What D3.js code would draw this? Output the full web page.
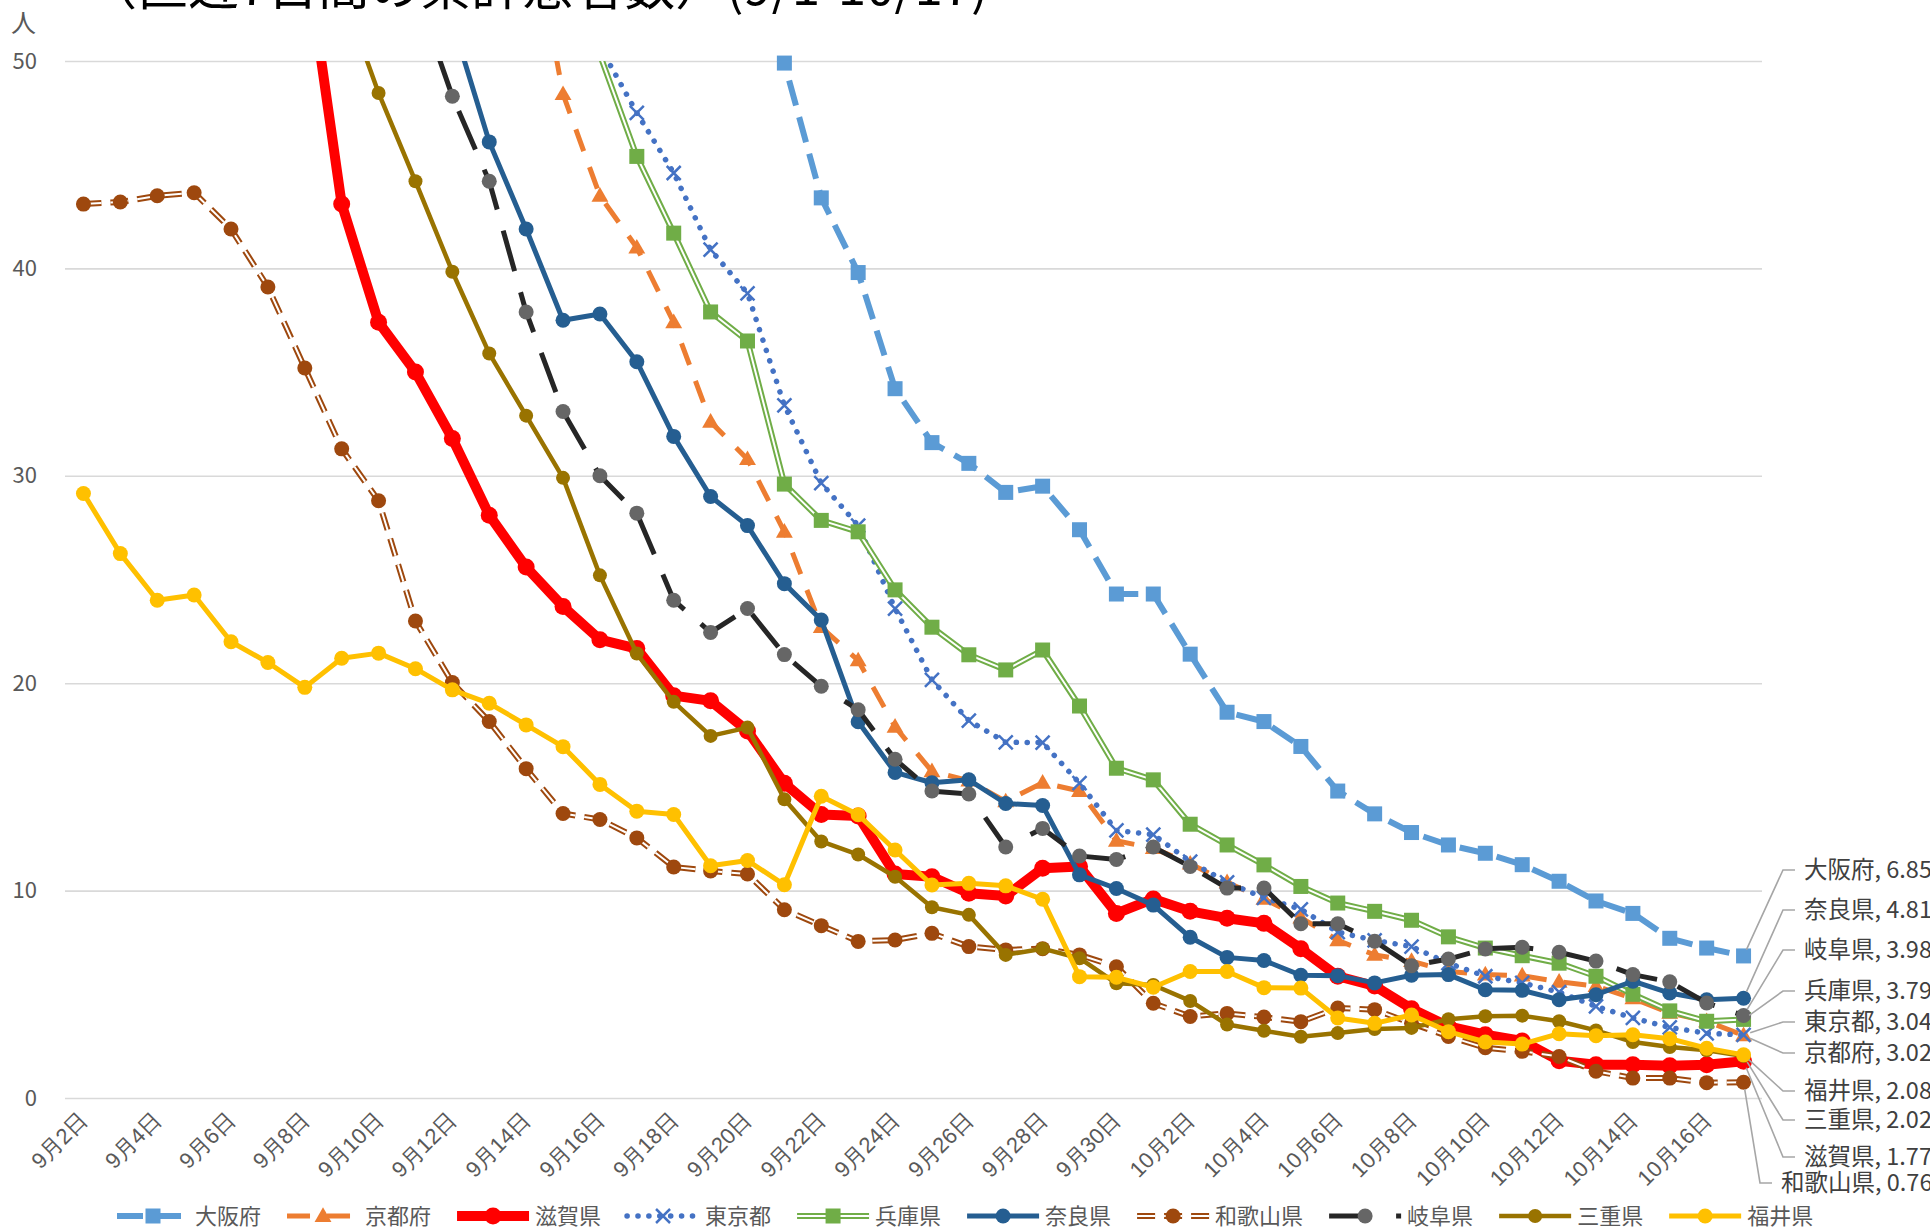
<!doctype html>
<html lang="ja">
<head>
<meta charset="utf-8">
<title>直近7日間の累計患者数</title>
<style>
html, body {
	margin: 0;
	padding: 0;
	background: #fff;
}
svg {
	display: block;
	font-family: "Noto Sans CJK JP", "Noto Sans", sans-serif;
}
</style>
</head>
<body>
<div id="chart"></div>
<script src="https://cdnjs.cloudflare.com/ajax/libs/d3/7.8.5/d3.min.js"></script>
<script>
/* DATA */

var dates = [
	'9月2日', '9月3日', '9月4日', '9月5日', '9月6日', '9月7日', '9月8日', '9月9日', '9月10日', '9月11日',
	'9月12日', '9月13日', '9月14日', '9月15日', '9月16日', '9月17日', '9月18日', '9月19日', '9月20日', '9月21日',
	'9月22日', '9月23日', '9月24日', '9月25日', '9月26日', '9月27日', '9月28日', '9月29日', '9月30日', '10月1日',
	'10月2日', '10月3日', '10月4日', '10月5日', '10月6日', '10月7日', '10月8日', '10月9日', '10月10日', '10月11日',
	'10月12日', '10月13日', '10月14日', '10月15日', '10月16日', '10月17日'
];

var yTicks = [0, 10, 20, 30, 40, 50];

var osaka = [null, null, null, null, null, null, null, null, null, null,
	null, null, null, null, null, null, null, null, 58, 49.9,
	43.4, 39.8, 34.2, 31.6, 30.6, 29.2, 29.5, 27.4, 24.3, 24.3,
	21.4, 18.6, 18.15, 16.95, 14.8, 13.7, 12.8, 12.2, 11.8, 11.25,
	10.45, 9.5, 8.9, 7.7, 7.23, 6.85];

var kyoto = [null, null, null, null, null, null, null, null, null, null,
	null, null, 58, 48.4, 43.5, 41.0, 37.4, 32.6, 30.8, 27.3,
	22.7, 21.1, 17.9, 15.75, 15.3, 14.3, 15.2, 14.8, 12.4, 12.05,
	11.3, 10.4, 9.6, 8.7, 7.6, 6.9, 6.6, 6.1, 5.95, 5.9,
	5.6, 5.4, 4.8, 4.1, 3.7, 3.02];

var shiga = [null, null, null, null, null, null, 55.6, 43.1, 37.4, 35.0,
	31.8, 28.1, 25.6, 23.7, 22.1, 21.67, 19.4, 19.15, 17.7, 15.17,
	13.67, 13.6, 10.8, 10.67, 9.87, 9.74, 11.08, 11.16, 8.9, 9.6,
	9.0, 8.67, 8.42, 7.2, 5.87, 5.4, 4.3, 3.45, 3.05, 2.75,
	1.8, 1.6, 1.6, 1.55, 1.6, 1.77];

var tokyo = [null, null, null, null, null, null, null, null, null, null,
	null, null, null, null, 50.7, 47.5, 44.6, 40.9, 38.8, 33.4,
	29.65, 27.6, 23.6, 20.16, 18.2, 17.15, 17.14, 15.18, 12.9, 12.7,
	11.4, 10.4, 9.65, 9.1, 8.0, 7.6, 7.3, 6.5, 5.87, 5.55,
	5.1, 4.42, 3.86, 3.4, 3.12, 3.04];

var hyogo = [null, null, null, null, null, null, null, null, null, null,
	null, null, null, 56, 50.3, 45.4, 41.7, 37.9, 36.5, 29.6,
	27.85, 27.3, 24.5, 22.7, 21.37, 20.64, 21.6, 18.9, 15.9, 15.34,
	13.2, 12.2, 11.24, 10.2, 9.4, 9.0, 8.57, 7.77, 7.23, 6.86,
	6.5, 5.87, 5.0, 4.2, 3.7, 3.79];

var nara = [null, null, null, null, null, null, null, null, null, null,
	51.9, 46.1, 41.9, 37.5, 37.8, 35.5, 31.9, 29.0, 27.6, 24.8,
	23.05, 18.14, 15.7, 15.2, 15.34, 14.2, 14.1, 10.76, 10.1, 9.3,
	7.75, 6.78, 6.63, 5.92, 5.9, 5.55, 5.92, 5.95, 5.22, 5.19,
	4.74, 4.98, 5.63, 5.06, 4.74, 4.81];

var wakayama = [43.1, 43.2, 43.5, 43.65, 41.9, 39.1, 35.2, 31.3, 28.8, 23.0,
	20.03, 18.15, 15.88, 13.72, 13.43, 12.54, 11.14, 10.95, 10.8, 9.08,
	8.31, 7.55, 7.62, 7.94, 7.3, 7.14, 7.2, 6.9, 6.33, 4.57,
	3.93, 4.08, 3.9, 3.68, 4.34, 4.26, 3.6, 2.97, 2.42, 2.25,
	2.0, 1.29, 0.96, 0.96, 0.74, 0.76];

var gifu = [null, null, null, null, null, null, null, null, null, 53.4,
	48.3, 44.2, 37.9, 33.1, 30.0, 28.2, 24.0, 22.45, 23.6, 21.38,
	19.85, 18.72, 16.33, 14.8, 14.66, 12.1, 13.0, 11.67, 11.5, 12.1,
	11.16, 10.12, 10.12, 8.4, 8.4, 7.56, 6.38, 6.7, 7.19, 7.27,
	7.03, 6.6, 5.95, 5.6, 4.58, 3.98];

var mie = [null, null, null, null, null, null, null, 53.4, 48.46, 44.2,
	39.84, 35.9, 32.9, 29.9, 25.2, 21.43, 19.1, 17.46, 17.86, 14.4,
	12.37, 11.74, 10.67, 9.2, 8.83, 6.9, 7.2, 6.74, 5.53, 5.45,
	4.68, 3.54, 3.24, 2.95, 3.13, 3.33, 3.38, 3.8, 3.94, 3.97,
	3.7, 3.26, 2.7, 2.46, 2.3, 2.02];

var fukui = [29.15, 26.25, 24.0, 24.25, 22.0, 21.0, 19.8, 21.2, 21.45, 20.7,
	19.68, 19.03, 17.99, 16.94, 15.12, 13.83, 13.67, 11.2, 11.45, 10.28,
	14.55, 13.66, 11.96, 10.27, 10.35, 10.23, 9.58, 5.85, 5.82, 5.34,
	6.1, 6.1, 5.32, 5.3, 3.86, 3.6, 4.0, 3.2, 2.7, 2.6,
	3.1, 3.0, 3.05, 2.86, 2.4, 2.08];

var seriesNames = ['大阪府', '京都府', '滋賀県', '東京都', '兵庫県', '奈良県', '和歌山県', '岐阜県', '三重県', '福井県'];
var seriesValues = [osaka, kyoto, shiga, tokyo, hyogo, nara, wakayama, gifu, mie, fukui];

// order of the end labels, top to bottom
var labelOrder = ['大阪府', '奈良県', '岐阜県', '兵庫県', '東京都', '京都府', '福井県', '三重県', '滋賀県', '和歌山県'];

/* STYLE */

var W = 1930, H = 1230;
var plot = { left: 65, right: 1762, top: 61, bottom: 1098 };

var styles = {
	'大阪府': { color: '#5B9BD5', width: 6, dash: '26,12', marker: 'square', size: 15 },
	'京都府': { color: '#ED7D31', width: 5, dash: '23,17', marker: 'triangle', size: 15 },
	'滋賀県': { color: '#FF0000', width: 10, marker: 'circle', size: 17 },
	'東京都': { color: '#4472C4', width: 5.5, dash: '0.1,10.8', cap: 'round', marker: 'x', size: 14 },
	'兵庫県': { color: '#70AD47', width: 6, inner: 2, marker: 'square', size: 15 },
	'奈良県': { color: '#255E91', width: 5, marker: 'circle', size: 15 },
	'和歌山県': { color: '#9E480E', width: 6, inner: 2, dash: '18,9', marker: 'circle', size: 15 },
	'岐阜県': { color: '#262626', width: 5, dash: '42,22', marker: 'circle', markerColor: '#666666', size: 15 },
	'三重県': { color: '#997300', width: 4.5, marker: 'circle', size: 14 },
	'福井県': { color: '#FFC000', width: 5, marker: 'circle', size: 15 }
};

var labelY = [870, 910, 950, 991, 1022, 1053, 1091, 1120, 1157, 1183];

/* CHART */

var svg = d3.select('#chart').append('svg')
	.attr('width', W)
	.attr('height', H);

svg.append('rect').attr('width', W).attr('height', H).attr('fill', '#fff');

svg.append('clipPath').attr('id', 'plotclip')
	.append('rect')
	.attr('x', plot.left - 20)
	.attr('y', plot.top)
	.attr('width', plot.right - plot.left + 40)
	.attr('height', plot.bottom - plot.top + 30);

var x = d3.scaleBand()
	.domain(d3.range(dates.length))
	.range([plot.left, plot.right]);
var cx = function (i) { return x(i) + x.bandwidth() / 2; };

var y = d3.scaleLinear().domain([0, 50]).range([plot.bottom, plot.top]);

// title (mostly above the top edge, as in the original)
svg.append('text')
	.attr('x', 86)
	.attr('y', 5)
	.attr('font-size', 51)
	.attr('fill', '#000')
	.text('（直近7日間の累計患者数）(9/1-10/17)');

svg.append('text')
	.attr('x', 11)
	.attr('y', 32)
	.attr('font-size', 25)
	.attr('fill', '#595959')
	.text('人');

// y axis + gridlines
var yAxis = svg.append('g')
	.attr('transform', 'translate(' + plot.left + ',0)')
	.call(d3.axisLeft(y).tickValues(yTicks).tickSize(-(plot.right - plot.left)).tickPadding(28));
yAxis.select('.domain').remove();
yAxis.selectAll('line').attr('stroke', '#D9D9D9').attr('stroke-width', 1.6);
yAxis.selectAll('text')
	.attr('font-size', 22)
	.attr('fill', '#595959')
	.attr('font-family', '"Noto Sans CJK JP", sans-serif');

// x axis labels
var xAxis = svg.append('g')
	.attr('transform', 'translate(0,' + plot.bottom + ')')
	.call(d3.axisBottom(x)
		.tickValues(d3.range(0, dates.length, 2))
		.tickFormat(function (i) { return dates[i]; })
		.tickSize(0));
xAxis.select('.domain').remove();
xAxis.selectAll('text')
	.attr('font-size', 22)
	.attr('fill', '#595959')
	.attr('text-anchor', 'end')
	.attr('dy', '0.35em')
	.attr('transform', 'translate(-2,16) rotate(-45)');

/* SERIES */

var lineGen = d3.line()
	.defined(function (d) { return d != null; })
	.x(function (d, i) { return cx(i); })
	.y(function (d) { return y(d); });

var drawMarker = function (g, st, px, py) {
	var s = st.size, fill = st.markerColor || st.color;
	if (st.marker === 'circle') {
		g.append('circle').attr('cx', px).attr('cy', py).attr('r', s / 2).attr('fill', fill);
	} else if (st.marker === 'square') {
		g.append('rect').attr('x', px - s / 2).attr('y', py - s / 2)
			.attr('width', s).attr('height', s).attr('fill', fill);
	} else if (st.marker === 'triangle') {
		g.append('path')
			.attr('d', d3.symbol().type(d3.symbolTriangle).size(s * s * 0.55)())
			.attr('transform', 'translate(' + px + ',' + (py + 1) + ')')
			.attr('fill', fill);
	} else if (st.marker === 'x') {
		var h = s / 2;
		g.append('path')
			.attr('d', 'M' + (px - h) + ',' + (py - h) + 'L' + (px + h) + ',' + (py + h) +
				'M' + (px + h) + ',' + (py - h) + 'L' + (px - h) + ',' + (py + h))
			.attr('stroke', fill).attr('stroke-width', 2.5).attr('fill', 'none');
	}
};

var drawStroke = function (g, st, d) {
	g.append('path')
		.attr('d', d)
		.attr('fill', 'none')
		.attr('stroke', st.color)
		.attr('stroke-width', st.width)
		.attr('stroke-dasharray', st.dash || null)
		.attr('stroke-linecap', st.cap || 'butt')
		.attr('stroke-linejoin', 'round');
	if (st.inner) {
		g.append('path')
			.attr('d', d)
			.attr('fill', 'none')
			.attr('stroke', '#fff')
			.attr('stroke-width', st.inner)
			.attr('stroke-dasharray', st.dash || null)
			.attr('stroke-linejoin', 'round');
	}
};

var series = svg.append('g');

seriesNames.forEach(function (name, k) {
	var st = styles[name];
	var vals = seriesValues[k];
	var g = series.append('g');
	drawStroke(g.append('g').attr('clip-path', 'url(#plotclip)'), st, lineGen(vals));
	vals.forEach(function (v, i) {
		if (v != null && v <= 50) {
			drawMarker(g, st, cx(i), y(v));
		}
	});
});

/* END LABELS */

var last = dates.length - 1;
var labels = svg.append('g');

labelOrder.forEach(function (name, k) {
	var v = seriesValues[seriesNames.indexOf(name)][last];
	var px = cx(last), py = y(v);
	var ly = labelY[k];
	var long = name.length > 3;
	var sx = long ? 1760 : 1783;
	var ex = sx + 12;
	var dx = sx - px, dy = ly - py;
	var len = Math.sqrt(dx * dx + dy * dy);
	var off = 7;
	labels.append('path')
		.attr('d', 'M' + (px + dx / len * off) + ',' + (py + dy / len * off) +
			'L' + sx + ',' + ly + 'L' + ex + ',' + ly)
		.attr('fill', 'none')
		.attr('stroke', '#A6A6A6')
		.attr('stroke-width', 1.6);
	labels.append('text')
		.attr('x', ex + 9)
		.attr('y', ly)
		.attr('dy', '0.35em')
		.attr('font-size', 23.5)
		.attr('fill', '#404040')
		.text(name + ', ' + d3.format('.2f')(v));
});

/* LEGEND */

var legend = svg.append('g').attr('transform', 'translate(0,1216)');
var lx = 117;
seriesNames.forEach(function (name) {
	var st = styles[name];
	var g = legend.append('g');
	var sw = 72;
	var d = 'M' + lx + ',0L' + (lx + sw) + ',0';
	if (name === '岐阜県') {
		drawStroke(g, st, 'M' + lx + ',0L' + (lx + 52) + ',0');
		g.append('rect').attr('x', lx + 67).attr('y', -2.5).attr('width', 5).attr('height', 5).attr('fill', st.color);
	} else {
		drawStroke(g, st, d);
	}
	drawMarker(g, st, lx + sw / 2, 0);
	var t = g.append('text')
		.attr('x', lx + sw + 6)
		.attr('y', 0)
		.attr('dy', '0.35em')
		.attr('font-size', 22)
		.attr('fill', '#595959')
		.text(name);
	lx += sw + 6 + t.node().getComputedTextLength() + 26;
});
</script>
</body>
</html>
